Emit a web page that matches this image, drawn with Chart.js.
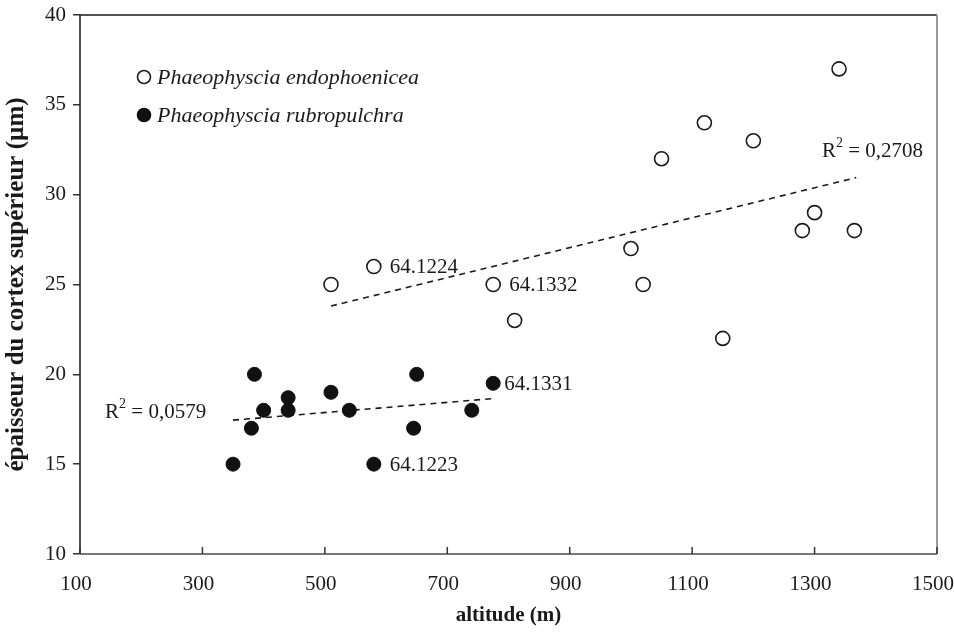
<!DOCTYPE html>
<html>
<head>
<meta charset="utf-8">
<script src="https://cdn.jsdelivr.net/npm/chart.js@4.4.1/dist/chart.umd.min.js"></script>
<style>
  html, body { margin: 0; padding: 0; background: #ffffff; }
  #wrap { width: 954px; height: 636px; position: relative; }
</style>
</head>
<body>
<div id="wrap"><canvas id="c" width="954" height="636"></canvas></div>
<script>
// ---- data ----
const endoName = "Phaeophyscia endophoenicea";
const rubroName = "Phaeophyscia rubropulchra";
const endoX = [510, 580, 775, 810, 1000, 1020, 1050, 1120, 1150, 1200, 1280, 1300, 1340, 1365];
const endoY = [25, 26, 25, 23, 27, 25, 32, 34, 22, 33, 28, 29, 37, 28];
const rubroX = [350, 380, 385, 400, 440, 440, 510, 540, 580, 645, 650, 740, 775];
const rubroY = [15, 17, 20, 18, 18.7, 18, 19, 18, 15, 17, 20, 18, 19.5];
const endoTrendX = [510, 1368];
const endoTrendY = [23.8, 30.95];
const rubroTrendX = [350, 775];
const rubroTrendY = [17.45, 18.65];
const endoLabelIdx = [1, 2];
const endoLabelTxt = ["64.1224", "64.1332"];
const rubroLabelIdx = [12, 8];
const rubroLabelTxt = ["64.1331", "64.1223"];
const r2Txt = ["0,2708", "0,0579"];
const r2X = [1312, 141];
const r2Y = [32.4, 17.9];
const xTickValues = [100, 300, 500, 700, 900, 1100, 1300, 1500];
const yTickValues = [10, 15, 20, 25, 30, 35, 40];
const xTitle = "altitude (m)";
const yTitle = "épaisseur du cortex supérieur (µm)";

const zip = (xs, ys) => xs.map((v, i) => ({ x: v, y: ys[i] }));
const SERIF = "'Liberation Serif', 'Times New Roman', serif";

const overlay = {
  id: 'overlay',
  afterDraw(chart) {
    const { ctx, chartArea: ca, scales: { x, y } } = chart;
    ctx.save();
    // frame
    ctx.lineCap = 'butt';
    ctx.strokeStyle = '#1a1a1a'; ctx.lineWidth = 1.5;
    ctx.beginPath(); ctx.moveTo(ca.left, ca.bottom); ctx.lineTo(ca.left, ca.top); ctx.lineTo(ca.right, ca.top); ctx.stroke();
    ctx.strokeStyle = '#777'; ctx.lineWidth = 2;
    ctx.beginPath(); ctx.moveTo(ca.left, ca.bottom); ctx.lineTo(ca.right, ca.bottom); ctx.stroke();
    ctx.strokeStyle = '#999'; ctx.lineWidth = 2;
    ctx.beginPath(); ctx.moveTo(ca.right, ca.top); ctx.lineTo(ca.right, ca.bottom); ctx.stroke();
    // inner x ticks
    ctx.strokeStyle = '#333'; ctx.lineWidth = 1.5;
    x.ticks.forEach(t => {
      const px = x.getPixelForValue(t.value);
      ctx.beginPath(); ctx.moveTo(px, ca.bottom); ctx.lineTo(px, ca.bottom - 7); ctx.stroke();
    });
    // point labels
    ctx.fillStyle = '#1a1a1a';
    ctx.font = '21px ' + SERIF;
    ctx.textBaseline = 'middle'; ctx.textAlign = 'left';
    endoLabelIdx.forEach((idx, k) => {
      ctx.fillText(endoLabelTxt[k], x.getPixelForValue(endoX[idx]) + 16, y.getPixelForValue(endoY[idx]) + 1);
    });
    rubroLabelIdx.forEach((idx, k) => {
      const off = idx === 12 ? 11 : 16;
      ctx.fillText(rubroLabelTxt[k], x.getPixelForValue(rubroX[idx]) + off, y.getPixelForValue(rubroY[idx]) + 1);
    });
    // R² labels
    r2Txt.forEach((t, k) => {
      let px = x.getPixelForValue(r2X[k]);
      const py = y.getPixelForValue(r2Y[k]);
      ctx.font = '21px ' + SERIF;
      ctx.fillText('R', px, py);
      px += ctx.measureText('R').width;
      ctx.font = '14px ' + SERIF;
      ctx.fillText('2', px, py - 8);
      px += ctx.measureText('2').width;
      ctx.font = '21px ' + SERIF;
      ctx.fillText(' = ' + t, px, py);
    });
    // legend
    const items = [
      { name: endoName, ds: chart.data.datasets[0] },
      { name: rubroName, ds: chart.data.datasets[1] }
    ];
    items.forEach((it, k) => {
      const cx = ca.left + 64, cy = ca.top + 62 + k * 38;
      ctx.beginPath(); ctx.arc(cx, cy, 6.5, 0, Math.PI * 2);
      ctx.fillStyle = it.ds.backgroundColor; ctx.fill();
      ctx.lineWidth = 1.6; ctx.strokeStyle = it.ds.borderColor; ctx.stroke();
      ctx.fillStyle = '#1a1a1a';
      ctx.font = 'italic 22px ' + SERIF;
      ctx.fillText(it.name, ca.left + 77, cy + 1);
    });
    ctx.restore();
  }
};

new Chart(document.getElementById('c'), {
  type: 'scatter',
  data: {
    datasets: [
      { label: endoName, data: zip(endoX, endoY), pointRadius: 7, pointHoverRadius: 7,
        backgroundColor: '#ffffff', borderColor: '#1a1a1a', borderWidth: 1.6 },
      { label: rubroName, data: zip(rubroX, rubroY), pointRadius: 7, pointHoverRadius: 7,
        backgroundColor: '#111111', borderColor: '#111111', borderWidth: 1 },
      { type: 'line', label: 'trend endo', data: zip(endoTrendX, endoTrendY), showLine: true,
        borderColor: '#1a1a1a', borderWidth: 1.6, borderDash: [6, 5], pointRadius: 0, fill: false },
      { type: 'line', label: 'trend rubro', data: zip(rubroTrendX, rubroTrendY), showLine: true,
        borderColor: '#1a1a1a', borderWidth: 1.6, borderDash: [6, 5], pointRadius: 0, fill: false }
    ]
  },
  options: {
    responsive: false,
    animation: false,
    events: [],
    layout: { padding: { left: 0, right: 17, top: 15, bottom: 0 } },
    plugins: { legend: { display: false }, tooltip: { enabled: false } },
    scales: {
      x: {
        type: 'linear', min: 100, max: 1500,
        afterBuildTicks: s => { s.ticks = xTickValues.map(v => ({ value: v })); },
        afterFit: s => { s.height = 82; s.paddingLeft = 0; s.paddingRight = 0; },
        grid: { display: false, drawTicks: false },
        border: { display: false },
        ticks: { color: '#1a1a1a', font: { family: SERIF, size: 21 }, padding: 18, maxRotation: 0, autoSkip: false,
                 labelOffset: -4, callback: v => String(v) },
        title: { display: true, text: xTitle, color: '#1a1a1a', padding: { top: 0, bottom: 8 },
                 font: { family: SERIF, size: 21, weight: 'bold', lineHeight: 1.2 } }
      },
      y: {
        type: 'linear', min: 10, max: 40,
        afterBuildTicks: s => { s.ticks = yTickValues.map(v => ({ value: v })); },
        afterFit: s => { s.width = 80; s.paddingTop = 0; s.paddingBottom = 0; },
        grid: { display: true, drawOnChartArea: false, drawTicks: true, tickLength: 7, color: '#333', lineWidth: 1.5 },
        border: { display: false },
        ticks: { color: '#1a1a1a', font: { family: SERIF, size: 21 }, padding: 7, callback: v => String(v) },
        title: { display: true, text: yTitle, color: '#1a1a1a', padding: { top: 2, bottom: 0 },
                 font: { family: SERIF, size: 25, weight: 'bold', lineHeight: 1.2 } }
      }
    }
  },
  plugins: [overlay]
});
</script>
</body>
</html>
